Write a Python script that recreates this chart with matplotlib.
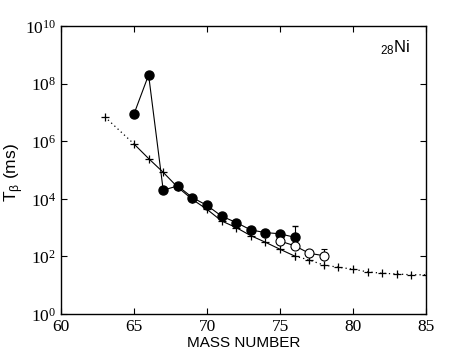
import numpy as np
import matplotlib
matplotlib.use('Agg')
from matplotlib import pyplot as plt
from matplotlib.ticker import FixedLocator, FuncFormatter

plt.rcParams['mathtext.fontset'] = 'custom'
plt.rcParams['mathtext.rm'] = 'Liberation Serif'
plt.rcParams['mathtext.sf'] = 'Liberation Sans'
plt.rcParams['font.family'] = 'Liberation Sans'

# experimental (filled circles)
exp_A = [65, 66, 67, 68, 69, 70, 71, 72, 73, 74, 75, 76]
exp_T = [8.8e6, 2.0e8, 2.0e4, 2.8e4, 1.1e4, 5.9e3, 2.5e3, 1.5e3, 830, 670, 610, 460]
exp_err_up = [0, 0, 0, 0, 0, 0, 0, 0, 0, 0, 0, 710]

# open circles
new_A = [75, 76, 77, 78]
new_T = [340, 235, 128, 106]
new_err_up = [0, 0, 0, 70]

# calculation (crosses)
calc_A = [63, 65, 66, 67, 68, 69, 70, 71, 72, 73, 74, 75, 76, 77, 78, 79, 80, 81, 82, 83, 84, 85]
calc_T = [7.0e6, 8.0e5, 2.5e5, 8.3e4, 2.5e4, 9.5e3, 4.3e3, 1.7e3, 1.0e3, 525, 310, 177,
          103, 75, 50, 42, 36, 29, 26, 24.5, 23, 23]
calc_err = [0, 0, 0, 0, 0, 0, 0, 0, 0, 0, 0, 0, 25, 15, 10, 0, 0, 0, 0, 0, 0, 0]

fig = plt.figure(figsize=(4.71, 3.54), dpi=100)
ax = fig.add_axes([0.1295, 0.113, 0.775, 0.8136])

A = np.array(calc_A)
T = np.array(calc_T)
solid = (A >= 65) & (A <= 76)
pre = A <= 65
post = A >= 76
ax.plot(A[solid], T[solid], '-', color='k', lw=0.8)
ax.plot(A[pre], T[pre], color='k', lw=0.9, linestyle=(0, (1, 2.5)))
ax.plot(A[post], T[post], color='k', lw=0.9, linestyle=(0, (1, 2.5)))
ax.errorbar(A, T, yerr=calc_err, fmt='+', color='k', ms=6, mew=0.9, elinewidth=0.8, capsize=0)

ax.plot(exp_A, exp_T, '-', color='k', lw=0.8)
ax.errorbar(exp_A, exp_T, yerr=[np.zeros(len(exp_A)), exp_err_up], fmt='o', color='k',
            ms=6.5, elinewidth=0.8, capsize=2, zorder=4)

ax.plot(new_A, new_T, '-', color='k', lw=0.8)
ax.errorbar(new_A, new_T, yerr=[np.zeros(len(new_A)), new_err_up], fmt='o', mfc='white',
            mec='k', color='k', ms=6.5, mew=0.8, elinewidth=0.8, capsize=2, zorder=4)

ax.set_yscale('log')
ax.set_xlim(60, 85)
ax.set_ylim(1, 1e10)
ax.yaxis.set_major_locator(FixedLocator([10.0 ** k for k in range(0, 11, 2)]))
ax.yaxis.set_minor_locator(FixedLocator([]))
ax.yaxis.set_major_formatter(FuncFormatter(lambda v, p: r'$\mathrm{10^{%d}}$' % round(np.log10(v))))
ax.set_xticks([60, 65, 70, 75, 80, 85])
ax.tick_params(which='both', direction='in', top=True, right=True, length=4, width=0.8,
               labelsize=12.5)
for lab in ax.get_xticklabels():
    lab.set_fontfamily('Liberation Serif')
for s in ax.spines.values():
    s.set_linewidth(1.0)

ax.set_xlabel('MASS NUMBER', fontsize=11, labelpad=1)
ax.set_ylabel(r'T$_\mathsf{β}$ (ms)', fontsize=12.5)
ax.yaxis.set_label_coords(-0.098, 0.49)
ax.text(0.875, 0.91, r'$\mathsf{_{28}Ni}$', transform=ax.transAxes, fontsize=12)

fig.savefig('out.png', dpi=100)
